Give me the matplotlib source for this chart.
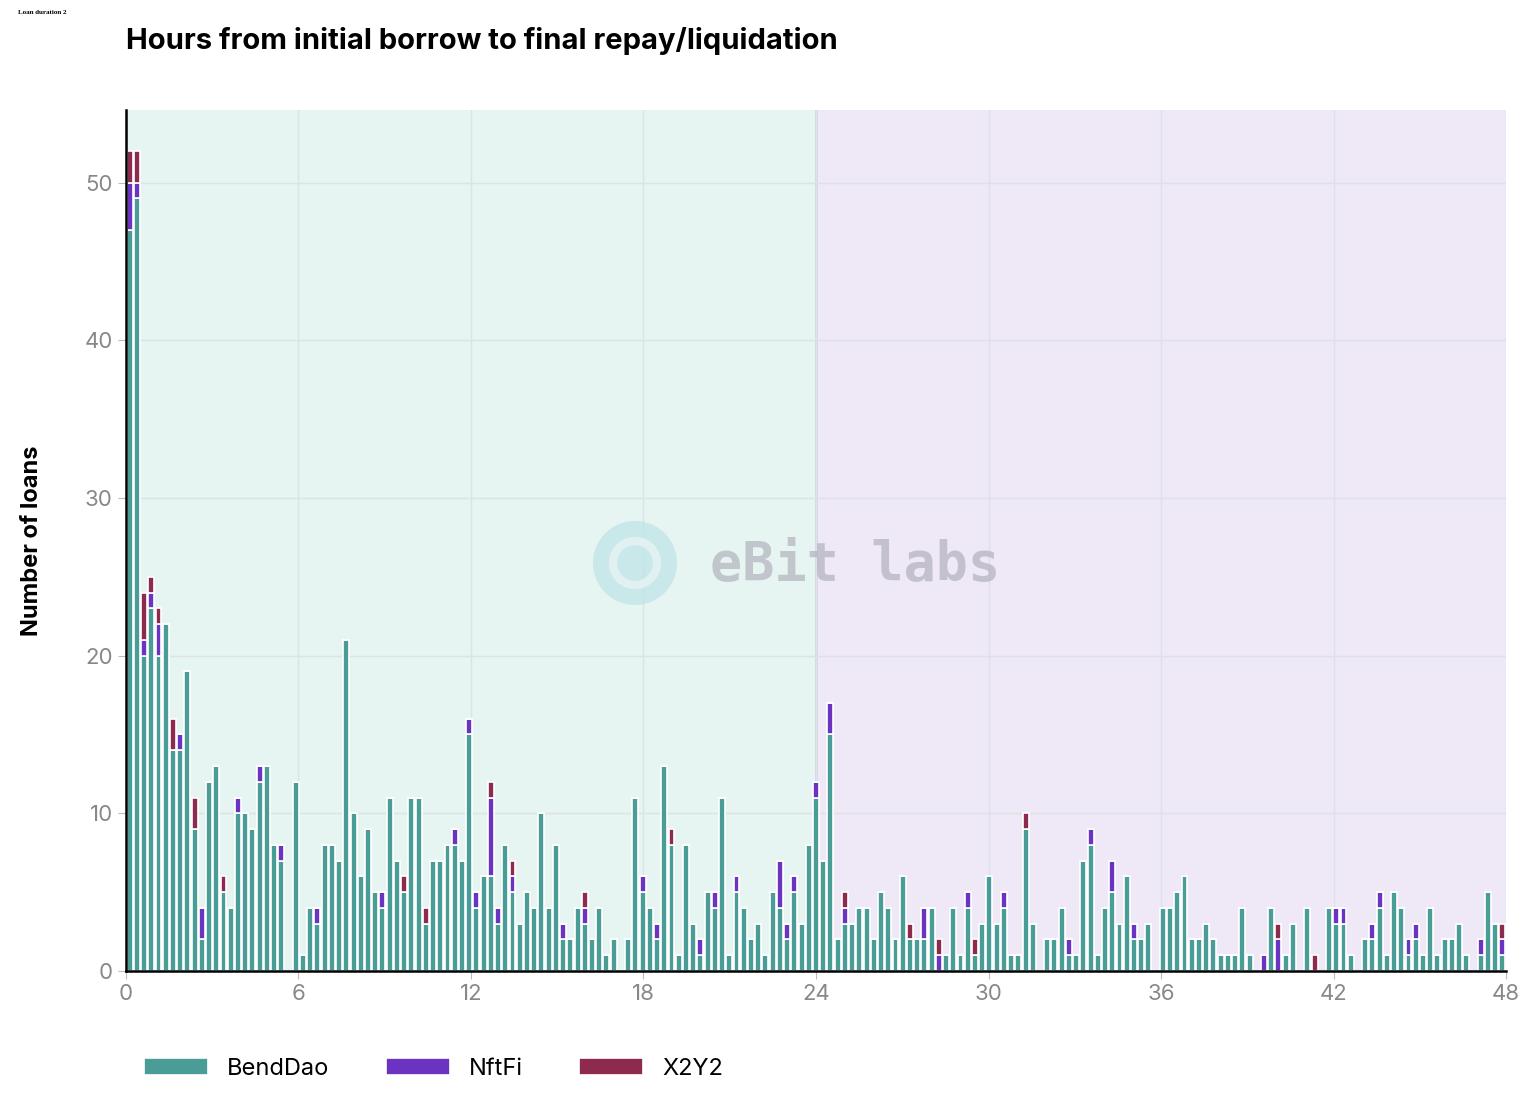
import matplotlib
matplotlib.use("Agg")
import matplotlib.pyplot as plt
from matplotlib.patches import Circle
import numpy as np

plt.rcParams["font.family"] = "Inter"

bend = [47,49,20,23,20,22,14,14,19,9,2,12,13,5,4,10,10,9,12,13,8,7,0,12,
        1,4,3,8,8,7,21,10,6,9,5,4,11,7,5,11,11,3,7,7,8,8,7,15,
        4,6,6,3,8,5,3,5,4,10,4,8,2,2,4,3,2,4,1,2,0,2,11,5,
        4,2,13,8,1,8,3,1,5,4,11,1,5,4,2,3,1,5,4,2,5,3,8,11,
        7,15,2,3,3,4,4,2,5,4,2,6,2,2,2,4,0,1,4,1,4,1,3,6,
        3,4,1,1,9,3,0,2,2,4,1,1,7,8,1,4,5,3,6,2,2,3,0,4,
        4,5,6,2,2,3,2,1,1,1,4,1,0,0,4,0,1,3,0,4,0,0,4,3,
        3,1,0,2,2,4,1,5,4,1,2,1,4,1,2,2,3,1,0,1,5,3,1]
nftfi = [3,1,1,1,2,0,0,1,0,0,2,0,0,0,0,1,0,0,1,0,0,1,0,0,
         0,0,1,0,0,0,0,0,0,0,0,1,0,0,0,0,0,0,0,0,0,1,0,1,
         1,0,5,1,0,1,0,0,0,0,0,0,1,0,0,1,0,0,0,0,0,0,0,1,
         0,1,0,0,0,0,0,1,0,1,0,0,1,0,0,0,0,0,3,1,1,0,0,1,
         0,2,0,1,0,0,0,0,0,0,0,0,0,0,2,0,1,0,0,0,1,0,0,0,
         0,1,0,0,0,0,0,0,0,0,1,0,0,1,0,0,2,0,0,1,0,0,0,0,
         0,0,0,0,0,0,0,0,0,0,0,0,0,1,0,2,0,0,0,0,0,0,0,1,
         1,0,0,0,1,1,0,0,0,1,1,0,0,0,0,0,0,0,0,1,0,0,1]
x2y2 = [2,2,3,1,1,0,2,0,0,2,0,0,0,1,0,0,0,0,0,0,0,0,0,0,
        0,0,0,0,0,0,0,0,0,0,0,0,0,0,1,0,0,1,0,0,0,0,0,0,
        0,0,1,0,0,1,0,0,0,0,0,0,0,0,0,1,0,0,0,0,0,0,0,0,
        0,0,0,1,0,0,0,0,0,0,0,0,0,0,0,0,0,0,0,0,0,0,0,0,
        0,0,0,1,0,0,0,0,0,0,0,0,1,0,0,0,1,0,0,0,0,1,0,0,
        0,0,0,0,1,0,0,0,0,0,0,0,0,0,0,0,0,0,0,0,0,0,0,0,
        0,0,0,0,0,0,0,0,0,0,0,0,0,0,0,1,0,0,0,0,1,0,0,0,
        0,0,0,0,0,0,0,0,0,0,0,0,0,0,0,0,0,0,0,0,0,0,1]
xticks = [0, 6, 12, 18, 24, 30, 36, 42, 48]
yticks = [0, 10, 20, 30, 40, 50]

b = np.array(bend); n = np.array(nftfi); x2 = np.array(x2y2)
nb = len(b)
step = 48 / nb
x = (np.arange(nb) + 0.5) * step

fig = plt.figure(figsize=(15.36, 11.03), dpi=100)
ax = fig.add_axes([0.082, 0.1197, 0.8985, 0.7806])
ax.axvspan(0, 24, color="#e6f4f2", zorder=0)
ax.axvspan(24, 48, color="#eee8f7", zorder=0)
ax.axvline(24, color="#d9d6e6", lw=2, zorder=0.5)
ax.grid(True, color="#dde3e3", lw=1, zorder=0.6)
ax.set_axisbelow(True)

w = step * 0.82
kw = dict(width=w, edgecolor="white", linewidth=1.2, zorder=2)
ax.bar(x, b, color="#4a9d97", label="BendDao", **kw)
ax.bar(x, n, bottom=b, color="#6a33c2", label="NftFi", **kw)
ax.bar(x, x2, bottom=b + n, color="#8f2a4f", label="X2Y2", **kw)

ax.set_xlim(0, 48)
ax.set_ylim(0, 54.6)
ax.set_xticks(xticks)
ax.set_yticks(yticks)
ax.tick_params(labelsize=16, colors="#888888", length=6)
ax.tick_params(axis="both", color="#bbbbbb")
for s in ["top", "right"]:
    ax.spines[s].set_visible(False)
for s in ["left", "bottom"]:
    ax.spines[s].set_color("black"); ax.spines[s].set_linewidth(1.8)
ax.set_ylabel("Number of loans", fontsize=17, fontweight="bold", labelpad=30)

# watermark
fig.text(710 / 1536, 1 - 565 / 1103, "eBit labs", fontsize=38.5, color="#a8a8b4",
         alpha=0.6, fontweight="bold", family="DejaVu Sans Mono", va="center", zorder=5)
fig.patches.append(Circle((6.35, 5.40), 0.42, transform=fig.dpi_scale_trans,
                          facecolor="#bfe4e8", edgecolor="none", alpha=0.75, zorder=5))
fig.patches.append(Circle((6.35, 5.40), 0.22, transform=fig.dpi_scale_trans,
                          facecolor="none", edgecolor="#e4f3f3", lw=6, alpha=0.9, zorder=6))

fig.text(0.082, 0.963, "Hours from initial borrow to final repay/liquidation",
         fontsize=21, fontweight="bold", va="center")
fig.text(0.012, 0.989, "Loan duration 2", fontsize=5, fontweight="bold",
         family="Liberation Serif", va="center")

ax.legend(loc="upper left", bbox_to_anchor=(-0.002, -0.076), ncol=3, frameon=False,
          fontsize=17, handlelength=2.7, handleheight=0.7, columnspacing=2.4)
fig.savefig("out.png", dpi=100)
